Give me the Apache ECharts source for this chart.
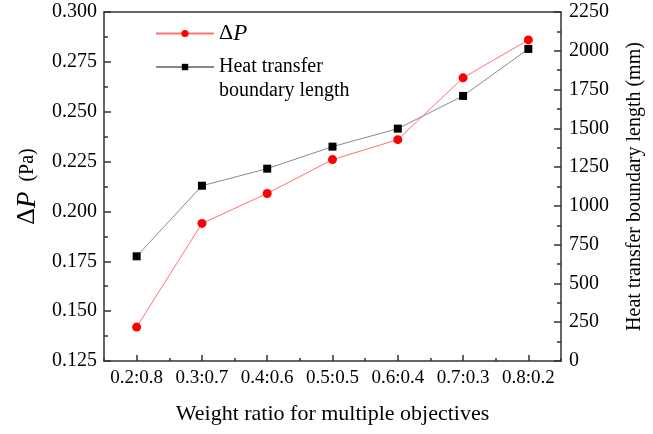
<!DOCTYPE html>
<html>
<head>
<meta charset="utf-8">
<script src="https://cdn.jsdelivr.net/npm/echarts@6/dist/echarts.min.js"></script>
<style>
  html, body { margin: 0; padding: 0; background: #fff; }
  #chart { width: 653px; height: 434px; }
</style>
</head>
<body>
<div id="chart"></div>
<script>
const ratios = ['0.2:0.8', '0.3:0.7', '0.4:0.6', '0.5:0.5', '0.6:0.4', '0.7:0.3', '0.8:0.2']
const deltaP = [0.142, 0.194, 0.209, 0.226, 0.236, 0.267, 0.286] // Pa
const boundaryLength = [675, 1130, 1240, 1382, 1498, 1709, 2012] // mm

const font = 'Liberation Serif'
const axisColor = '#333'

const chart = echarts.init(document.getElementById('chart'))
chart.setOption({
  animation: false,
  grid: { left: 104, right: 89, top: 12, bottom: 73 },
  legend: [{
    data: ['ΔP'],
    left: 150, top: 17,
    itemWidth: 58, itemHeight: 9, itemGap: 12,
    formatter: () => '{d|Δ}{p|P}',
    textStyle: {
      fontFamily: font,
      rich: {
        d: { fontFamily: font, fontSize: 22, color: '#000' },
        p: { fontFamily: font, fontSize: 23, fontStyle: 'italic', color: '#000' }
      }
    }
  }, {
    data: ['Heat transfer boundary length'],
    left: 150, top: 26,
    itemWidth: 58, itemHeight: 8, itemGap: 12,
    formatter: () => '\nHeat transfer\nboundary length',
    textStyle: { fontFamily: font, fontSize: 20, lineHeight: 24, color: '#000' }
  }],
  xAxis: [{
    type: 'category',
    data: ratios,
    name: 'Weight ratio for multiple objectives',
    nameLocation: 'middle',
    nameGap: 42,
    nameTextStyle: { fontFamily: font, fontSize: 22, color: '#000' },
    axisLine: { show: true, lineStyle: { color: axisColor, width: 1.5 } },
    axisTick: { show: true, alignWithLabel: true, inside: true, length: 6, lineStyle: { color: axisColor, width: 1.5 } },
    axisLabel: { fontFamily: font, fontSize: 19, color: '#000', margin: 8, interval: 0 },
    splitLine: { show: false }
  }, {
    // boundary ticks between categories
    type: 'category',
    data: ratios,
    position: 'bottom',
    offset: 0,
    axisLine: { show: false },
    axisTick: { show: true, inside: true, length: 3, lineStyle: { color: axisColor, width: 1.5 } },
    axisLabel: { show: false },
    splitLine: { show: false }
  }, {
    // top frame line
    type: 'category',
    data: ratios,
    position: 'top',
    axisLine: { show: true, lineStyle: { color: axisColor, width: 1.5 } },
    axisTick: { show: false },
    axisLabel: { show: false },
    splitLine: { show: false }
  }],
  yAxis: [{
    type: 'value',
    min: 0.125, max: 0.3, interval: 0.025,
    name: '{d|Δ}{p|P}{u|  (Pa)}',
    nameLocation: 'middle',
    nameRotate: 90,
    nameGap: 62,
    nameTextStyle: {
      fontFamily: font,
      rich: {
        d: { fontFamily: font, fontSize: 26, color: '#000' },
        p: { fontFamily: font, fontSize: 27, fontStyle: 'italic', color: '#000' },
        u: { fontFamily: font, fontSize: 20, color: '#000' }
      }
    },
    axisLine: { show: true, lineStyle: { color: axisColor, width: 1.5 } },
    axisTick: { show: true, inside: true, length: 7, lineStyle: { color: axisColor, width: 1.5 } },
    minorTick: { show: true, splitNumber: 2, length: 4, lineStyle: { color: axisColor, width: 1.5 } },
    axisLabel: { fontFamily: font, fontSize: 20, color: '#000', margin: 7, formatter: v => v.toFixed(3) },
    splitLine: { show: false }
  }, {
    type: 'value',
    min: 0, max: 2250, interval: 250,
    name: 'Heat transfer boundary length (mm)',
    nameLocation: 'middle',
    nameRotate: 90,
    nameGap: 64,
    nameTextStyle: { fontFamily: font, fontSize: 20, color: '#000' },
    axisLine: { show: true, lineStyle: { color: axisColor, width: 1.5 } },
    axisTick: { show: true, inside: true, length: 7, lineStyle: { color: axisColor, width: 1.5 } },
    minorTick: { show: true, splitNumber: 2, length: 4, lineStyle: { color: axisColor, width: 1.5 } },
    axisLabel: { fontFamily: font, fontSize: 20, color: '#000', margin: 8, formatter: v => String(v) },
    splitLine: { show: false }
  }],
  series: [{
    name: 'ΔP',
    type: 'line',
    yAxisIndex: 0,
    data: deltaP,
    symbol: 'circle',
    symbolSize: 9,
    itemStyle: { color: '#ff0000' },
    lineStyle: { color: '#ff7070', width: 1 }
  }, {
    name: 'Heat transfer boundary length',
    type: 'line',
    yAxisIndex: 1,
    data: boundaryLength,
    symbol: 'rect',
    symbolSize: 8,
    itemStyle: { color: '#000' },
    lineStyle: { color: '#888', width: 1 }
  }]
})
</script>
</body>
</html>
